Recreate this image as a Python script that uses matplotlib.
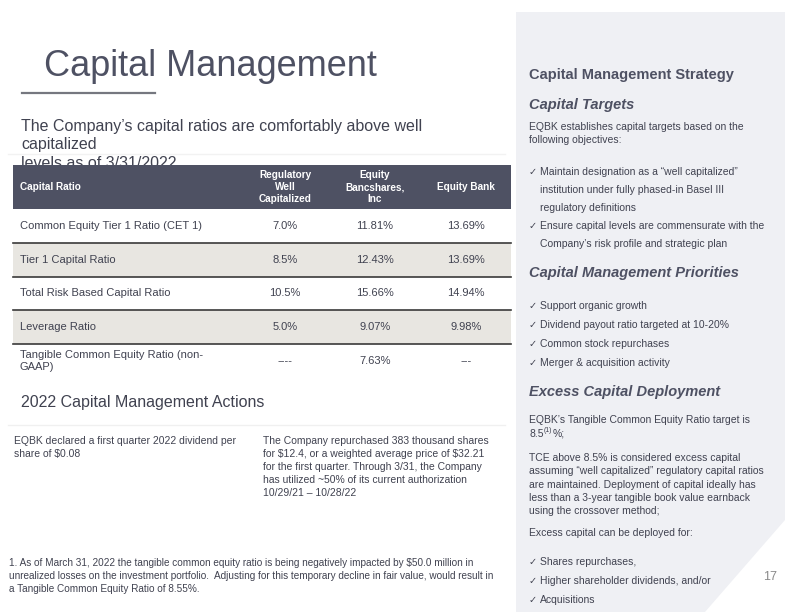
import matplotlib.pyplot as plt
from matplotlib.patches import Rectangle, Polygon

plt.rcParams['font.family'] = ['Liberation Sans', 'DejaVu Sans']

# table data
col_headers = ['Capital Ratio', 'Regulatory\nWell\nCapitalized', 'Equity\nBancshares,\nInc', 'Equity Bank']
row_labels = ['Common Equity Tier 1 Ratio (CET 1)', 'Tier 1 Capital Ratio',
              'Total Risk Based Capital Ratio', 'Leverage Ratio',
              'Tangible Common Equity Ratio (non-\nGAAP)']
well_capitalized = ['7.0%', '8.5%', '10.5%', '5.0%', '----']
bancshares = ['11.81%', '12.43%', '15.66%', '9.07%', '7.63%']
bank = ['13.69%', '13.69%', '14.94%', '9.98%', '---']

targets = ['Maintain designation as a \u201cwell capitalized\u201d',
           'institution under fully phased-in Basel III',
           'regulatory definitions',
           'Ensure capital levels are commensurate with the',
           'Company\u2019s risk profile and strategic plan']
target_checks = [True, False, False, True, False]
priorities = ['Support organic growth', 'Dividend payout ratio targeted at 10-20%',
              'Common stock repurchases', 'Merger & acquisition activity']
deploy_uses = ['Shares repurchases,', 'Higher shareholder dividends, and/or', 'Acquisitions']

DARK = '#4e5163'
TEXT = '#404250'
BEIGE = '#e8e6e1'
PANEL = '#eff0f4'

fig = plt.figure(figsize=(7.92, 6.12), dpi=100)
ax = fig.add_axes([0, 0, 1, 1])
ax.set_xlim(0, 792)
ax.set_ylim(612, 0)
ax.axis('off')

# right panel with cut corner
ax.add_patch(Polygon([(516, 12), (785, 12), (785, 520), (705, 612), (516, 612)],
                     closed=True, facecolor=PANEL, edgecolor='none', zorder=0))

# title
ax.text(44, 66, 'Capital Management', fontsize=26, color=DARK, va='center')
ax.plot([22, 155], [93, 93], color='#75777f', lw=1.6)

# subtitle (last line sits under the table header)
sub = ['The Company\u2019s capital ratios are comfortably above well', 'capitalized',
       'levels as of 3/31/2022']
for i, s in enumerate(sub):
    ax.text(21, 127 + i * 18, s, fontsize=11.5, color=TEXT, va='center', zorder=1)
ax.plot([8, 505], [154, 154], color='#f2f2f2', lw=1, zorder=1)

# table
left, right = 13, 511
col_x = [20, 285, 375, 466]
ax.add_patch(Rectangle((left, 165), right - left, 44, facecolor=DARK, zorder=3))
for j, h in enumerate(col_headers):
    ax.text(col_x[j], 187, h, fontsize=7.2, fontweight='bold', color='white',
            ha='left' if j == 0 else 'center', va='center', linespacing=1.3, zorder=4)

row_top = [209, 243, 277, 310, 344]
row_h = [34, 34, 33, 34, 34]
for i in range(len(row_labels)):
    y0 = row_top[i]
    if i % 2 == 1:
        ax.add_patch(Rectangle((left, y0), right - left, row_h[i], facecolor=BEIGE,
                               edgecolor='none', zorder=2))
    yc = y0 + row_h[i] / 2
    ax.text(col_x[0], yc, row_labels[i], fontsize=8, color=TEXT, va='center',
            linespacing=1.35, zorder=4)
    ax.text(col_x[1], yc, well_capitalized[i], fontsize=8, color=TEXT, ha='center', va='center', zorder=4)
    ax.text(col_x[2], yc, bancshares[i], fontsize=8, color=TEXT, ha='center', va='center', zorder=4)
    ax.text(col_x[3], yc, bank[i], fontsize=8, color=TEXT, ha='center', va='center', zorder=4)
    if i < len(row_labels) - 1:
        ax.plot([left, right], [y0 + row_h[i]] * 2, color='#3a3a3a', lw=1.2, zorder=4)

# 2022 actions
ax.text(21, 403, '2022 Capital Management Actions', fontsize=11.5, color=TEXT, va='center')
ax.plot([8, 505], [425, 425], color='#f0f0f0', lw=1)
left_txt = ['EQBK declared a first quarter 2022 dividend per', 'share of \\$0.08']
right_txt = ['The Company repurchased 383 thousand shares',
             'for \\$12.4, or a weighted average price of \\$32.21',
             'for the first quarter. Through 3/31, the Company',
             'has utilized ~50% of its current authorization',
             '10/29/21 \u2013 10/28/22']
for i, s in enumerate(left_txt):
    ax.text(14, 441 + i * 13, s, fontsize=7.5, color=TEXT, va='center')
for i, s in enumerate(right_txt):
    ax.text(263, 441 + i * 13, s, fontsize=7.5, color=TEXT, va='center')

foot = ['1. As of March 31, 2022 the tangible common equity ratio is being negatively impacted by \\$50.0 million in',
        'unrealized losses on the investment portfolio.  Adjusting for this temporary decline in fair value, would result in',
        'a Tangible Common Equity Ratio of 8.55%.']
for i, s in enumerate(foot):
    ax.text(9, 563 + i * 13, s, fontsize=7.2, color=TEXT, va='center')

# right panel text
px = 529
ax.text(px, 75, 'Capital Management Strategy', fontsize=10.5, fontweight='bold', color=DARK, va='center')
ax.text(px, 105, 'Capital Targets', fontsize=10.5, fontweight='bold', style='italic', color=DARK, va='center')
ax.text(px, 127, 'EQBK establishes capital targets based on the', fontsize=7.5, color=TEXT, va='center')
ax.text(px, 140, 'following objectives:', fontsize=7.5, color=TEXT, va='center')


def bullet(y, s, check=True):
    if check:
        ax.text(px, y, '\u2713', fontsize=7, color=TEXT, va='center', family='DejaVu Sans')
    ax.text(px + 11, y, s, fontsize=7.5, color=TEXT, va='center')


target_y = [172, 190, 208, 226, 244]
for y, s, c in zip(target_y, targets, target_checks):
    bullet(y, s, c)

ax.text(px, 273, 'Capital Management Priorities', fontsize=10.5, fontweight='bold', style='italic',
        color=DARK, va='center')
for i, s in enumerate(priorities):
    bullet(306 + i * 19, s)

ax.text(px, 392, 'Excess Capital Deployment', fontsize=10.5, fontweight='bold', style='italic',
        color=DARK, va='center')
ax.text(px, 420, 'EQBK\u2019s Tangible Common Equity Ratio target is', fontsize=7.5, color=TEXT, va='center')
ax.text(px, 434, '8.5', fontsize=7.5, color=TEXT, va='center')
ax.text(px + 15, 431, '(1)', fontsize=5, color=TEXT, va='center')
ax.text(px + 24, 434, '%;', fontsize=7.5, color=TEXT, va='center')
tce = ['TCE above 8.5% is considered excess capital',
       'assuming \u201cwell capitalized\u201d regulatory capital ratios',
       'are maintained. Deployment of capital ideally has',
       'less than a 3-year tangible book value earnback',
       'using the crossover method;']
for i, s in enumerate(tce):
    ax.text(px, 458 + i * 13.3, s, fontsize=7.5, color=TEXT, va='center')
ax.text(px, 533, 'Excess capital can be deployed for:', fontsize=7.5, color=TEXT, va='center')
for i, s in enumerate(deploy_uses):
    bullet(562 + i * 19, s)

ax.text(770, 577, '17', fontsize=9, color='#8a8a8a', ha='center', va='center')

fig.savefig('out.png', dpi=100)
